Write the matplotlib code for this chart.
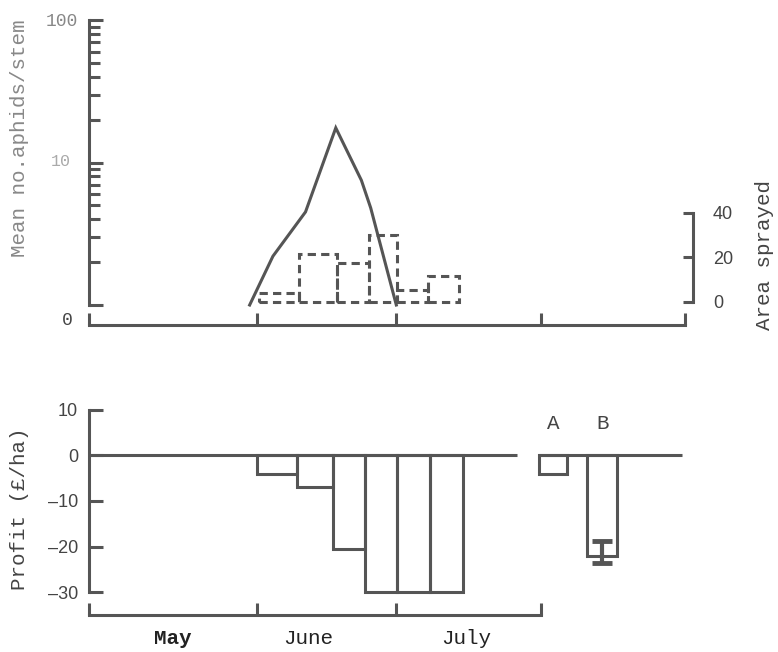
import numpy as np
import matplotlib
matplotlib.use("Agg")
import matplotlib.pyplot as plt
from matplotlib.ticker import FixedLocator

# time axis: days counted from 1 May
month_ticks = [-5, 31, 61, 92, 123]
month_names = ["May", "June", "July"]
month_label_days = [13, 42, 76]

# aphid counts (log scale)
aphid_days = [29.5, 34.5, 41.5, 48, 53.5, 55.5, 61]
aphid_counts = [1, 2.2, 4.5, 17.5, 7.5, 4.8, 1]

# area sprayed, weekly
spray_edges = [31.6, 40.2, 48.2, 55.2, 61.2, 67.7, 74.5]
spray_area = [4, 21.5, 17.5, 30, 5.5, 11.5]

# profit by spray week
profit_edges = [31.0, 39.6, 47.3, 54.2, 61.2, 68.3, 75.4]
profit = [-4, -7, -20.5, -30, -30, -30]

# strategies A and B
ab_labels = ["A", "B"]
ab_profit = [-4, -22]
ab_err_low = [0, 1.7]
ab_err_high = [0, 3.3]

LC = "#555555"
TC = "#444444"
LW = 2.2
MONO = ["Liberation Mono", "DejaVu Sans Mono"]
SANS = ["Liberation Sans", "DejaVu Sans"]

W, H = 778, 652
fig = plt.figure(figsize=(W / 100, H / 100), dpi=100)


def px_axes(x0, y0, x1, y1):
    return fig.add_axes([x0 / W, 1 - y1 / H, (x1 - x0) / W, (y1 - y0) / H])


# ---------- top panel ----------
ax = px_axes(89, 20, 685, 325)
ax.set_yscale("log")
ax.set_ylim(0.724, 100)
ax.set_xlim(-5, 123)
ax.plot(aphid_days, aphid_counts, color=LC, lw=LW, solid_joinstyle="miter")
for s in ["top", "right"]:
    ax.spines[s].set_visible(False)
ax.spines["left"].set_bounds(1, 100)
ax.spines["bottom"].set_bounds(-5, 123)
for s in ["left", "bottom"]:
    ax.spines[s].set_color(LC)
    ax.spines[s].set_linewidth(LW)
ax.set_xticks(month_ticks)
ax.set_xticklabels([])
ax.set_yticks([1, 10, 100])
ax.set_yticklabels(["", "", "100"], family=MONO, fontsize=13, color="#888888")
ax.yaxis.set_minor_locator(FixedLocator([m * d for d in (1, 10) for m in range(2, 10)]))
ax.yaxis.set_minor_formatter(plt.NullFormatter())
ax.tick_params(axis="both", which="both", direction="in", color=LC, width=LW)
ax.tick_params(axis="y", which="major", length=10, pad=8)
ax.tick_params(axis="y", which="minor", length=8)
ax.tick_params(axis="x", length=9)
fig.text(61 / W, 1 - 162 / H, "10", ha="center", va="center",
         family=MONO, fontsize=12, color="#aaaaaa")
fig.text(67 / W, 1 - 320 / H, "0", ha="center", va="center",
         family=MONO, fontsize=13, color=TC)

ax2 = ax.twinx()
ax2.set_ylim(-10.34, 126.7)
ax2.bar(spray_edges[:-1], spray_area, width=np.diff(spray_edges), align="edge",
        fill=False, edgecolor=LC, lw=LW, linestyle=(0, (2.7, 1.7)))
for s in ["top", "left", "bottom"]:
    ax2.spines[s].set_visible(False)
ax2.spines["right"].set_position(("outward", 6))
ax2.spines["right"].set_bounds(0, 40)
ax2.spines["right"].set_color(LC)
ax2.spines["right"].set_linewidth(LW)
ax2.set_yticks([0, 20, 40])
ax2.set_yticklabels(["0", "20", "40"], family=SANS, fontsize=13, color=TC)
ax2.tick_params(axis="y", direction="in", length=7, width=LW, color=LC, pad=14)

fig.text(20 / W, 1 - 138 / H, "Mean no.aphids/stem", rotation=90,
         ha="center", va="center", family=MONO, fontsize=15, color="#888888")
fig.text(765 / W, 1 - 255 / H, "Area sprayed", rotation=90,
         ha="center", va="center", family=MONO, fontsize=15, color=TC)

# ---------- bottom panel ----------
axb = px_axes(89, 407.7, 685, 615)
axb.set_ylim(-35.05, 10.5)
axb.set_xlim(-5, 123)
axb.hlines(0, -5, 87, color=LC, lw=LW)
axb.bar(profit_edges[:-1], profit, width=np.diff(profit_edges), align="edge",
        fill=False, edgecolor=LC, lw=LW)
for s in ["top", "right"]:
    axb.spines[s].set_visible(False)
axb.spines["left"].set_bounds(-30, 10)
axb.spines["bottom"].set_bounds(-5, 92)
for s in ["left", "bottom"]:
    axb.spines[s].set_color(LC)
    axb.spines[s].set_linewidth(LW)
axb.set_xticks(month_ticks[:4])
axb.set_xticklabels([])
axb.set_yticks([10, 0, -10, -20, -30])
axb.set_yticklabels(["10", "0", "\u201310", "\u201320", "\u201330"],
                    family=SANS, fontsize=13, color=TC)
axb.tick_params(axis="both", direction="in", color=LC, width=LW)
axb.tick_params(axis="y", length=10, pad=8)
axb.tick_params(axis="x", length=9)
for d, name in zip(month_label_days, month_names):
    axb.text(d, -40.3, name, ha="center", va="center", family=MONO, fontsize=15,
             color="#222222", fontweight="bold" if name == "May" else "normal",
             clip_on=False)

fig.text(20 / W, 1 - 509 / H, "Profit (\u00a3/ha)", rotation=90,
         ha="center", va="center", family=MONO, fontsize=15, color=TC)

# ---------- A / B ----------
axab = px_axes(536, 407.7, 685.5, 615)
axab.set_ylim(-35.05, 10.5)
axab.set_xlim(-0.35, 2.7)
axab.axis("off")
axab.hlines(0, -0.29, 2.63, color=LC, lw=LW)
xs = np.arange(len(ab_labels))
axab.bar(xs, ab_profit, width=[0.57, 0.6], fill=False, edgecolor=LC, lw=LW)
axab.errorbar(xs[1:], ab_profit[1:], yerr=[ab_err_low[1:], ab_err_high[1:]],
              fmt="none", ecolor=LC, elinewidth=3, capsize=7, capthick=3.5)
for x, lab in zip(xs, ab_labels):
    axab.text(x, 7, lab, ha="center", va="center", family=MONO,
              fontsize=15, color=TC)

fig.savefig("out.png", dpi=100, facecolor="white")
